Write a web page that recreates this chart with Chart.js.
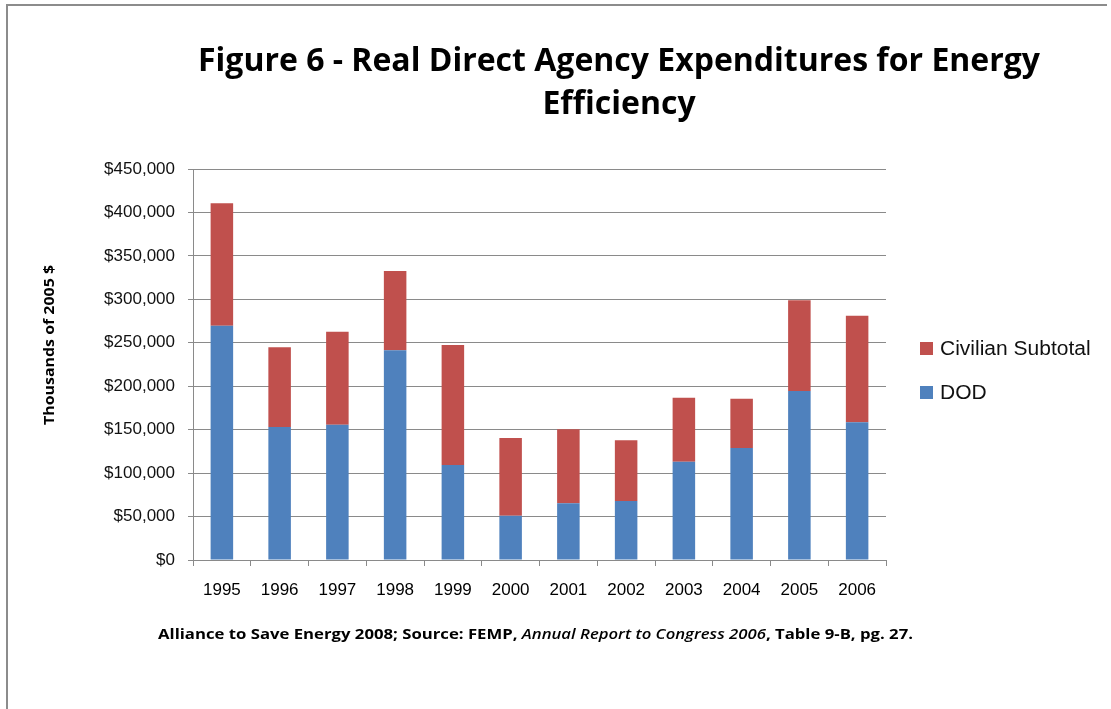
<!DOCTYPE html>
<html>
<head>
<meta charset="utf-8">
<title>Figure 6 - Real Direct Agency Expenditures for Energy Efficiency</title>
<script src="https://cdn.jsdelivr.net/npm/chart.js@4/dist/chart.umd.min.js"></script>
<style>
  html, body { margin: 0; padding: 0; background: #fff; }
  canvas { display: block; }
</style>
</head>
<body>
<canvas id="chart" width="1111" height="709"></canvas>
<script>
// data (thousands of 2005 $)
const years = ["1995", "1996", "1997", "1998", "1999", "2000", "2001", "2002", "2003", "2004", "2005", "2006"];
const dodValues = [269700, 153100, 155800, 241300, 109300, 51000, 65200, 67900, 113200, 128900, 194500, 158500];
const civilianValues = [140800, 91700, 107000, 91300, 138100, 89400, 85200, 69800, 73600, 56800, 104400, 122700];
const yTicks = [0, 50000, 100000, 150000, 200000, 250000, 300000, 350000, 400000, 450000];

const titleLines = ["Figure 6 - Real Direct Agency Expenditures for Energy", "Efficiency"];
const yTitle = "Thousands of 2005 $";
const footerParts = [
  { text: "Alliance to Save Energy 2008; Source: FEMP, ", italic: false },
  { text: "Annual Report to Congress 2006", italic: true },
  { text: ", Table 9-B, pg. 27.", italic: false }
];

const BLUE = "#4F81BD";
const RED = "#C0504D";
const GRID = "#8a8a8a";
const FONT = "'Liberation Sans', Arial, sans-serif";
const BOLD_FONT = "'Open Sans', 'Liberation Sans', sans-serif";

// draw text squeezed/stretched to a given width (Calibri is narrower than what we have)
function fitText(ctx, text, cx, y, width) {
  const w = ctx.measureText(text).width;
  ctx.save();
  ctx.translate(cx, y);
  ctx.scale(width / w, 1);
  ctx.textAlign = "center";
  ctx.fillText(text, 0, 0);
  ctx.restore();
}

const decorations = {
  id: "decorations",
  beforeDraw(chart) {
    const ctx = chart.ctx;
    ctx.save();
    ctx.fillStyle = "#fff";
    ctx.fillRect(0, 0, chart.width, chart.height);
    // frame (only left and top edges are in view)
    ctx.strokeStyle = "#8c8c8c";
    ctx.lineWidth = 2;
    ctx.beginPath();
    ctx.moveTo(7, chart.height);
    ctx.lineTo(7, 5);
    ctx.lineTo(chart.width - 4, 5);
    ctx.stroke();
    ctx.restore();
  },
  afterDraw(chart) {
    const ctx = chart.ctx;
    ctx.save();
    ctx.fillStyle = "#000";
    ctx.textBaseline = "alphabetic";

    // title
    ctx.font = "bold 33px " + BOLD_FONT;
    const sx1 = 842 / ctx.measureText(titleLines[0]).width;
    fitText(ctx, titleLines[0], 619, 71, 842);
    fitText(ctx, titleLines[1], 619, 114, ctx.measureText(titleLines[1]).width * sx1);

    // y axis title
    ctx.font = "bold 15px " + BOLD_FONT;
    ctx.save();
    ctx.translate(54, 345);
    ctx.rotate(-Math.PI / 2);
    fitText(ctx, yTitle, 0, 0, 160);
    ctx.restore();

    // footer, mixed upright / italic
    const fonts = footerParts.map(p => (p.italic ? "italic 600 15px " : "bold 15px ") + BOLD_FONT);
    let total = 0;
    const widths = footerParts.map((p, i) => {
      ctx.font = fonts[i];
      const w = ctx.measureText(p.text).width;
      total += w;
      return w;
    });
    const sx = 755 / total;
    let x = 158;
    footerParts.forEach((p, i) => {
      ctx.font = fonts[i];
      ctx.save();
      ctx.translate(x, 639);
      ctx.scale(sx, 1);
      ctx.textAlign = "left";
      ctx.fillText(p.text, 0, 0);
      ctx.restore();
      x += widths[i] * sx;
    });

    // legend, top to bottom in reverse dataset order like Excel
    const items = chart.data.datasets.slice().reverse();
    ctx.font = "20px " + FONT;
    ctx.textBaseline = "middle";
    items.forEach((ds, i) => {
      const cy = 348 + i * 44;
      ctx.fillStyle = ds.backgroundColor;
      ctx.fillRect(920, cy - 6, 13, 13);
      ctx.fillStyle = "#111";
      ctx.textAlign = "left";
      ctx.save();
      ctx.translate(940, cy + 1);
      ctx.scale(1.05, 1);
      ctx.fillText(ds.label, 0, 0);
      ctx.restore();
    });
    ctx.restore();
  }
};

new Chart(document.getElementById("chart"), {
  type: "bar",
  data: {
    labels: years,
    datasets: [
      {
        label: "DOD",
        data: dodValues,
        backgroundColor: BLUE,
        categoryPercentage: 1,
        barPercentage: 0.39
      },
      {
        label: "Civilian Subtotal",
        data: civilianValues,
        backgroundColor: RED,
        categoryPercentage: 1,
        barPercentage: 0.39
      }
    ]
  },
  options: {
    responsive: false,
    animation: false,
    layout: {
      padding: { top: 169, right: 225, bottom: 0, left: 0 }
    },
    plugins: {
      legend: { display: false },
      title: { display: false },
      tooltip: { enabled: false }
    },
    scales: {
      x: {
        stacked: true,
        afterFit: scale => { scale.height = 149; },
        grid: {
          drawOnChartArea: false,
          drawTicks: true,
          tickLength: 6,
          color: GRID,
          offset: true
        },
        border: { display: true, color: GRID, width: 1 },
        ticks: {
          color: "#000",
          font: { family: FONT, size: 17 },
          padding: 14,
          maxRotation: 0
        }
      },
      y: {
        stacked: true,
        min: 0,
        max: 450000,
        afterFit: scale => { scale.width = 193; },
        afterBuildTicks: scale => { scale.ticks = yTicks.map(v => ({ value: v })); },
        grid: {
          color: GRID,
          drawTicks: true,
          tickLength: 5
        },
        border: { display: true, color: GRID, width: 1 },
        ticks: {
          color: "#111",
          font: { family: FONT, size: 17 },
          padding: 13,
          callback: v => "$" + Number(v).toLocaleString("en-US")
        }
      }
    }
  },
  plugins: [decorations]
});
</script>
</body>
</html>
